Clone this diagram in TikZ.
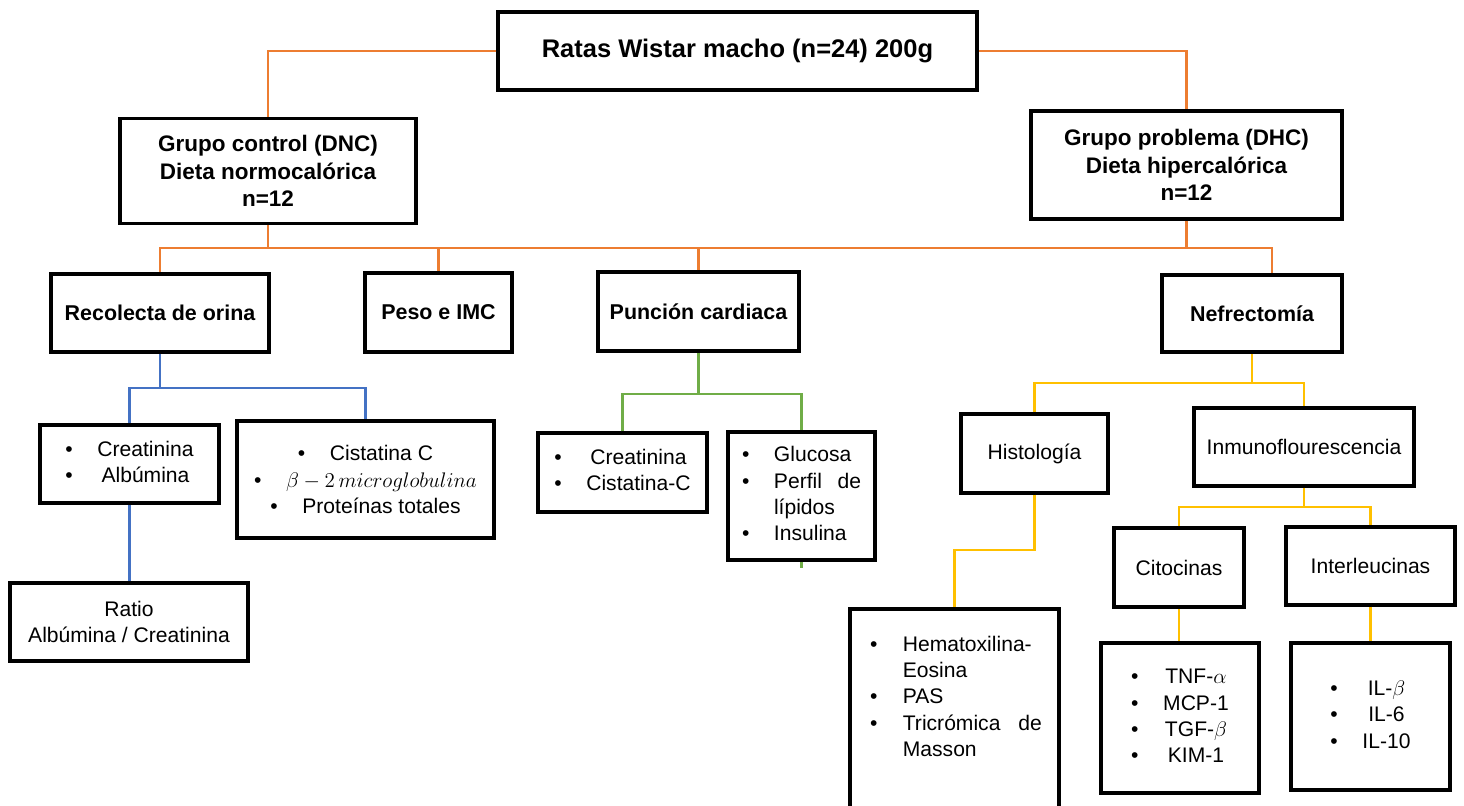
\documentclass[tikz,border=0pt]{standalone}
\usepackage{fontspec}
\setmainfont{Liberation Sans}
\usepackage{tikz}
\usetikzlibrary{calc}
\definecolor{naranja}{HTML}{ED7D31}
\definecolor{azul}{HTML}{4472C4}
\definecolor{verde}{HTML}{70AD47}
\definecolor{amarillo}{HTML}{FFC000}

\begin{document}
\begin{tikzpicture}[
  caja/.style={draw, line width=2pt, inner sep=2pt, align=center, font=\fontsize{12}{15}\selectfont},
  titulo/.style={caja, font=\bfseries\fontsize{12.2}{15.6}\selectfont},
  grupo/.style={caja, font=\bfseries\fontsize{12.8}{15.6}\selectfont},
  lin/.style={line width=1.2pt}
]
\useasboundingbox (0,0) rectangle (29.28,-16.12);

% top and groups
\node[titulo, minimum width=9.58cm, minimum height=1.56cm, font=\bfseries\fontsize{14.5}{17}\selectfont] (ratas) at (14.75,-1.02) {Ratas Wistar macho (n=24) 200g};
\node[grupo, minimum width=5.92cm, minimum height=2.10cm] (control) at (5.36,-3.42) {Grupo control (DNC)\\Dieta normocalórica\\n=12};
\node[grupo, minimum width=6.22cm, minimum height=2.16cm] (problema) at (23.73,-3.30) {Grupo problema (DHC)\\Dieta hipercalórica\\n=12};

% procedures
\node[titulo, minimum width=4.36cm, minimum height=1.56cm] (orina) at (3.20,-6.26) {Recolecta de orina};
\node[titulo, minimum width=2.94cm, minimum height=1.58cm] (peso) at (8.77,-6.25) {Peso e IMC};
\node[titulo, minimum width=4.02cm, minimum height=1.58cm] (puncion) at (13.97,-6.23) {Punción cardiaca};
\node[titulo, minimum width=3.60cm, minimum height=1.54cm] (nefrec) at (25.04,-6.27) {Nefrectomía};

% urine
\node[caja, minimum width=3.58cm, minimum height=1.56cm] (creat) at (2.59,-9.28) {\begin{tabular}{@{}c@{\hspace{14pt}}c@{}}•&Creatinina\\•&Albúmina\end{tabular}};
\node[caja, minimum width=5.14cm, minimum height=2.34cm] (cistat) at (7.31,-9.59) {•\hspace{14pt}Cistatina C\\•\hspace{14pt}{\fontsize{13}{15}\selectfont$\beta-2\,microglobulina$}\\•\hspace{14pt}Proteínas totales};
\node[caja, minimum width=4.76cm, minimum height=1.56cm] (ratio) at (2.58,-12.44) {Ratio\\Albúmina / Creatinina};

% blood
\node[caja, minimum width=3.38cm, minimum height=1.58cm] (crcis) at (12.45,-9.45) {\begin{tabular}{@{}c@{\hspace{14pt}}c@{}}•&Creatinina\\•&Cistatina-C\end{tabular}};
\node[caja, minimum width=2.94cm, minimum height=2.56cm] (glucosa) at (16.03,-9.92) {\begin{tabular}{@{}l@{\hspace{14pt}}l@{}}•&Glucosa\\•&\makebox[1.74cm][s]{Perfil de}\\&lípidos\\•&Insulina\end{tabular}};

% kidney
\node[caja, minimum width=2.94cm, minimum height=1.58cm] (histo) at (20.69,-9.07) {Histología};
\node[caja, minimum width=4.40cm, minimum height=1.56cm] (inmuno) at (26.08,-8.94) {Inmunoflourescencia};
\node[caja, minimum width=2.60cm, minimum height=1.58cm] (citoc) at (23.58,-11.35) {Citocinas};
\node[caja, minimum width=3.38cm, minimum height=1.56cm] (interl) at (27.41,-11.32) {Interleucinas};
\node[caja, anchor=north, inner xsep=0.4cm, inner ysep=0.2cm] (hemato) at (19.09,-12.14) {\begin{minipage}[c][3.7cm][t]{3.38cm}\vspace*{8pt}\begin{tabular}{@{}l@{\hspace{14.5pt}}l@{}}•&Hematoxilina-\\&Eosina\\•&PAS\\•&\makebox[2.78cm][s]{Tricrómica de}\\&Masson\end{tabular}\end{minipage}};
\node[caja, minimum width=3.16cm, minimum height=3.00cm] (tnf) at (23.60,-14.36) {\begin{tabular}{@{}c@{\hspace{14pt}}c@{}}•&TNF-$\alpha$\\•&MCP-1\\•&TGF-$\beta$\\•&KIM-1\end{tabular}};
\node[caja, minimum width=3.18cm, minimum height=2.94cm] (il) at (27.41,-14.33) {\begin{tabular}{@{}c@{\hspace{14pt}}c@{}}•&IL-$\beta$\\•&IL-6\\•&IL-10\end{tabular}};

% orange connectors
\coordinate (bus) at (0,-4.96);
\coordinate (nefin) at ($(nefrec.north)+(0.40,0)$);
\draw[lin, naranja] (ratas.west) -| (control.north);
\draw[lin, naranja] (ratas.east) -| (problema.north);
\draw[lin, naranja] (control.south) -- (control.south |- bus);
\draw[lin, naranja] (problema.south) -- (problema.south |- bus);
\draw[lin, naranja] (orina.north) |- (nefin |- bus) -- (nefin);
\draw[lin, naranja] (peso.north) -- (peso.north |- bus);
\draw[lin, naranja] (puncion.north) -- (puncion.north |- bus);

% blue connectors
\coordinate (azbus) at (0,-7.76);
\draw[lin, azul] (orina.south) -- (orina.south |- azbus);
\draw[lin, azul] (creat.north) |- (cistat.north |- azbus) -- (cistat.north);
\draw[lin, azul] (creat.south) -- (creat.south |- ratio.north);

% green connectors
\coordinate (vebus) at (0,-7.88);
\coordinate (vefin) at ($(glucosa.south)+(0,-0.12)$);
\draw[lin, verde] (puncion.south) -- (puncion.south |- vebus);
\draw[lin, verde] (crcis.north) |- (glucosa.north |- vebus) -- (glucosa.north);
\draw[lin, verde] (glucosa.south) -- (vefin);

% yellow connectors
\coordinate (ambus) at (0,-7.66);
\coordinate (hisbend) at (0,-11.0);
\coordinate (inbus) at (0,-10.14);
\draw[lin, amarillo] (nefrec.south) -- (nefrec.south |- ambus);
\draw[lin, amarillo] (histo.north) |- (inmuno.north |- ambus) -- (inmuno.north);
\draw[lin, amarillo] (histo.south) |- (hemato.north |- hisbend) -- (hemato.north);
\draw[lin, amarillo] (inmuno.south) -- (inmuno.south |- inbus);
\draw[lin, amarillo] (citoc.north) |- (interl.north |- inbus) -- (interl.north);
\draw[lin, amarillo] (citoc.south) -- (citoc.south |- tnf.north);
\draw[lin, amarillo] (interl.south) -- (interl.south |- il.north);

\end{tikzpicture}
\end{document}
